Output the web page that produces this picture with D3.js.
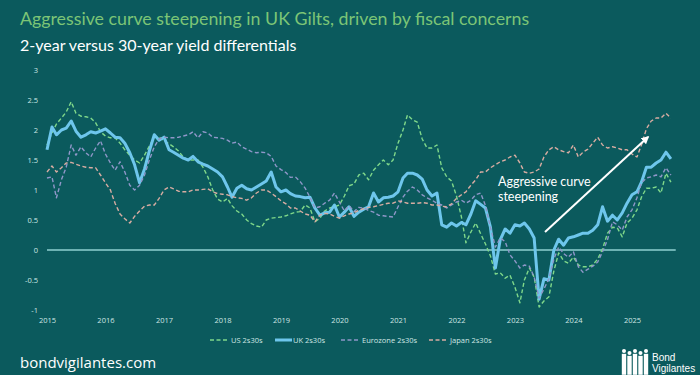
<!DOCTYPE html>
<html>
<head>
<meta charset="utf-8">
<script src="https://d3js.org/d3.v7.min.js"></script>
<style>
    body { margin: 0; background: #0b5a5d; }
    svg { display: block; }
</style>
</head>
<body>
<div id="chart"></div>
<script>
// monthly values, Jan 2015 .. Sep 2025
var startMonth = new Date(2015, 0, 1);

var usValues = [1.75,1.95,2.1,2.2,2.3,2.47,2.28,2.23,2.22,2.2,2.12,1.97,
    1.9,1.87,1.87,1.78,1.67,1.58,1.5,1.45,1.58,1.73,1.88,1.88,
    1.82,1.77,1.72,1.65,1.55,1.5,1.5,1.5,1.38,1.22,1.0,0.85,
    0.8,0.86,0.74,0.65,0.6,0.5,0.44,0.4,0.38,0.5,0.53,0.54,
    0.55,0.57,0.6,0.63,0.64,0.75,0.7,0.47,0.53,0.65,0.7,0.72,
    0.75,0.9,1.07,1.1,1.25,1.28,1.17,1.33,1.42,1.5,1.42,1.5,
    1.78,2.0,2.25,2.17,2.13,1.85,1.7,1.7,1.75,1.37,1.22,1.15,
    0.9,0.55,0.12,0.3,0.45,0.27,0.1,-0.1,-0.4,-0.38,-0.47,-0.42,
    -0.62,-0.88,-0.5,-0.3,-0.45,-0.95,-0.85,-0.78,-0.35,-0.05,-0.18,-0.22,
    -0.12,-0.25,-0.28,-0.28,-0.25,-0.15,0.02,0.28,0.38,0.37,0.22,0.45,
    0.53,0.67,0.88,1.03,1.03,1.05,0.95,1.28,1.13];

var ukValues = [1.67,2.05,1.92,2.0,2.03,2.15,1.98,1.88,1.92,1.97,1.95,1.98,
    2.02,1.95,1.88,1.87,1.78,1.62,1.42,1.12,1.35,1.65,1.92,1.83,
    1.88,1.67,1.63,1.58,1.53,1.5,1.56,1.47,1.43,1.4,1.35,1.3,
    1.22,1.05,0.88,1.03,1.08,1.02,1.0,1.05,1.1,1.15,1.3,1.05,
    0.97,1.0,0.94,0.9,0.89,0.87,0.88,0.7,0.58,0.62,0.63,0.75,
    0.55,0.63,0.72,0.56,0.63,0.68,0.72,0.95,0.8,0.87,0.88,0.9,
    0.97,1.2,1.28,1.28,1.25,1.18,1.0,0.9,0.95,0.42,0.38,0.45,
    0.4,0.46,0.42,0.6,0.82,0.76,0.7,0.38,-0.3,0.17,0.35,0.28,
    0.42,0.4,0.45,0.35,0.2,-0.82,-0.48,-0.5,0.0,0.18,0.08,0.2,
    0.22,0.25,0.28,0.28,0.33,0.42,0.72,0.48,0.58,0.5,0.62,0.78,
    0.92,0.97,1.13,1.38,1.38,1.45,1.5,1.63,1.52];

var euroValues = [1.2,1.22,0.87,1.17,1.38,1.75,1.58,1.72,1.62,1.55,1.7,1.82,
    1.6,1.45,1.33,1.47,1.3,1.08,1.0,1.08,1.25,1.5,1.72,1.85,
    1.88,1.87,1.87,1.88,1.9,1.92,1.97,1.87,1.97,1.95,1.88,1.87,
    1.86,1.83,1.78,1.8,1.72,1.68,1.64,1.62,1.63,1.62,1.56,1.4,
    1.34,1.29,1.21,1.22,1.14,1.03,0.88,0.7,0.72,0.78,0.83,0.95,
    0.8,0.65,0.74,0.64,0.71,0.7,0.66,0.63,0.58,0.57,0.56,0.55,
    0.72,0.88,0.98,1.05,1.0,0.92,0.87,0.83,0.78,0.75,0.7,0.75,
    0.8,0.83,0.78,0.83,0.92,0.95,0.74,0.38,0.05,0.2,0.14,-0.08,
    -0.18,-0.3,-0.25,-0.27,-0.45,-0.8,-0.65,-0.48,-0.15,0.05,-0.06,-0.12,
    -0.03,-0.28,-0.37,-0.32,-0.27,-0.2,-0.03,0.17,0.47,0.42,0.33,0.55,
    0.67,0.87,1.12,1.2,1.22,1.25,1.22,1.37,1.25];

var japanValues = [1.3,1.4,1.3,1.37,1.45,1.46,1.43,1.4,1.38,1.37,1.37,1.25,
    1.12,1.0,0.78,0.6,0.52,0.45,0.56,0.65,0.73,0.75,0.75,0.86,
    1.0,1.05,1.02,0.98,0.97,0.97,1.0,1.0,1.01,1.02,0.97,0.94,
    0.93,0.92,0.89,0.87,0.86,0.83,0.87,0.95,1.0,1.0,0.95,0.89,
    0.82,0.77,0.7,0.7,0.65,0.6,0.58,0.47,0.58,0.61,0.6,0.56,
    0.53,0.57,0.6,0.62,0.66,0.69,0.71,0.72,0.74,0.76,0.78,0.78,
    0.82,0.8,0.78,0.78,0.78,0.79,0.78,0.75,0.75,0.73,0.72,0.77,
    0.86,0.92,0.97,1.08,1.17,1.3,1.3,1.37,1.42,1.47,1.5,1.55,
    1.58,1.45,1.3,1.28,1.3,1.35,1.55,1.67,1.72,1.67,1.64,1.62,
    1.75,1.55,1.63,1.68,1.78,1.88,1.75,1.7,1.72,1.7,1.67,1.67,
    1.6,1.55,1.75,2.02,2.15,2.2,2.2,2.28,2.2];

var seriesNames = ["US 2s30s", "UK 2s30s", "Eurozone 2s30s", "Japan 2s30s"];
var yTicks = [-1, -0.5, 0, 0.5, 1, 1.5, 2, 2.5, 3];
var yearTicks = d3.range(2015, 2026);

var width = 700, height = 375;
var bg = "#0b5a5d";
var tickColor = "#cfe6e4";

var series = [
    { name: seriesNames[0], values: usValues, color: "#7fd88a", width: 1.4, dash: "4,2.5" },
    { name: seriesNames[1], values: ukValues, color: "#6ec6ec", width: 3, dash: null },
    { name: seriesNames[2], values: euroValues, color: "#8f97c9", width: 1.4, dash: "4,2.5" },
    { name: seriesNames[3], values: japanValues, color: "#d8aca2", width: 1.4, dash: "4,2.5" }
];

var svg = d3.select("#chart").append("svg")
    .attr("width", width)
    .attr("height", height)
    .style("background-color", bg);

// title + subtitle
svg.append("text")
    .attr("x", 20).attr("y", 25)
    .style("font-family", "Lato, 'Open Sans', sans-serif")
    .style("font-size", "17.8px")
    .attr("fill", "#7cc576")
    .text("Aggressive curve steepening in UK Gilts, driven by fiscal concerns");

svg.append("text")
    .attr("x", 20).attr("y", 51)
    .style("font-family", "Lato, 'Open Sans', sans-serif")
    .style("font-size", "16px")
    .attr("fill", "#ffffff")
    .text("2-year versus 30-year yield differentials");

var x = d3.scaleTime()
    .domain([new Date(2015, 0, 1), new Date(2025, 0, 1)])
    .range([47, 632]);

var y = d3.scaleLinear()
    .domain([-1, 3])
    .range([310, 70]);

// y axis labels
var yAxis = svg.append("g")
    .attr("transform", "translate(40,0)")
    .call(d3.axisLeft(y).tickValues(yTicks).tickSize(0).tickPadding(2)
        .tickFormat(function (d) { return String(d); }));
yAxis.select(".domain").remove();
yAxis.selectAll("text")
    .attr("fill", tickColor)
    .style("font-family", "'Open Sans', sans-serif")
    .style("font-size", "7.5px");

// x axis labels
var xAxis = svg.append("g")
    .attr("transform", "translate(0,313)")
    .call(d3.axisBottom(x)
        .tickValues(yearTicks.map(function (yr) { return new Date(yr, 0, 1); }))
        .tickSize(0).tickPadding(5)
        .tickFormat(d3.timeFormat("%Y")));
xAxis.select(".domain").remove();
xAxis.selectAll("text")
    .attr("fill", tickColor)
    .style("font-family", "'Open Sans', sans-serif")
    .style("font-size", "7.5px");

// zero line
svg.append("line")
    .attr("x1", x(new Date(2015, 0, 1)))
    .attr("x2", x(new Date(2025, 9, 1)))
    .attr("y1", y(0)).attr("y2", y(0))
    .attr("stroke", "#8fd0d0")
    .attr("stroke-width", 1.3);

var line = d3.line()
    .x(function (d, i) { return x(d3.timeMonth.offset(startMonth, i)); })
    .y(function (d) { return y(d); });

svg.selectAll(".series")
    .data(series)
    .enter().append("path")
    .attr("class", "series")
    .attr("d", function (s) { return line(s.values); })
    .attr("fill", "none")
    .attr("stroke", function (s) { return s.color; })
    .attr("stroke-width", function (s) { return s.width; })
    .attr("stroke-dasharray", function (s) { return s.dash; })
    .attr("stroke-linejoin", "round");

// annotation
svg.append("text")
    .attr("x", 498).attr("y", 186)
    .style("font-family", "Lato, 'Open Sans', sans-serif")
    .style("font-size", "12.5px")
    .attr("fill", "#ffffff")
    .text("Aggressive curve");
svg.append("text")
    .attr("x", 498).attr("y", 201)
    .style("font-family", "Lato, 'Open Sans', sans-serif")
    .style("font-size", "12.5px")
    .attr("fill", "#ffffff")
    .text("steepening");

svg.append("defs").append("marker")
    .attr("id", "arrow")
    .attr("viewBox", "0 0 10 10")
    .attr("refX", 8).attr("refY", 5)
    .attr("markerWidth", 4).attr("markerHeight", 4)
    .attr("orient", "auto")
    .append("path")
    .attr("d", "M0,0 L10,5 L0,10 z")
    .attr("fill", "#ffffff");

svg.append("line")
    .attr("x1", 545).attr("y1", 232)
    .attr("x2", 648).attr("y2", 137)
    .attr("stroke", "#ffffff")
    .attr("stroke-width", 2)
    .attr("marker-end", "url(#arrow)");

// legend
var legendX = [210, 275, 341, 429];
var legend = svg.selectAll(".legend")
    .data(series)
    .enter().append("g")
    .attr("class", "legend")
    .attr("transform", function (s, i) { return "translate(" + legendX[i] + ",340)"; });

legend.append("line")
    .attr("x1", 0).attr("x2", function (s, i) { return i == 1 ? 17 : 18; })
    .attr("y1", 0).attr("y2", 0)
    .attr("stroke", function (s) { return s.color; })
    .attr("stroke-width", function (s) { return s.width; })
    .attr("stroke-dasharray", function (s) { return s.dash; });

legend.append("text")
    .attr("x", function (s, i) { return i == 1 ? 18 : 21; })
    .attr("y", 3)
    .attr("fill", tickColor)
    .style("font-family", "'Open Sans', sans-serif")
    .style("font-size", "7.5px")
    .text(function (s) { return s.name; });

// footer
svg.append("text")
    .attr("x", 20).attr("y", 368)
    .style("font-family", "'Open Sans', sans-serif")
    .style("font-size", "15px")
    .attr("fill", "#ffffff")
    .text("bondvigilantes.com");

// logo: little crowd of figures
var figX = [624, 629.5, 635, 640.5, 646];
var logo = svg.append("g");
figX.forEach(function (fx, i) {
    var top = i % 2 == 0 ? 351 : 353;
    logo.append("circle").attr("cx", fx).attr("cy", top).attr("r", 2).attr("fill", "#ffffff");
    logo.append("rect").attr("x", fx - 2.2).attr("y", top + 2.8).attr("width", 4.4).attr("height", 21 - (top - 351)).attr("fill", "#ffffff");
});
svg.append("text")
    .attr("x", 652).attr("y", 361)
    .style("font-family", "'Liberation Sans', Arial, sans-serif")
    .style("font-size", "10px")
    .attr("fill", "#ffffff")
    .text("Bond");
svg.append("text")
    .attr("x", 652).attr("y", 372)
    .style("font-family", "'Liberation Sans', Arial, sans-serif")
    .style("font-size", "10px")
    .attr("fill", "#ffffff")
    .text("Vigilantes");
</script>
</body>
</html>
